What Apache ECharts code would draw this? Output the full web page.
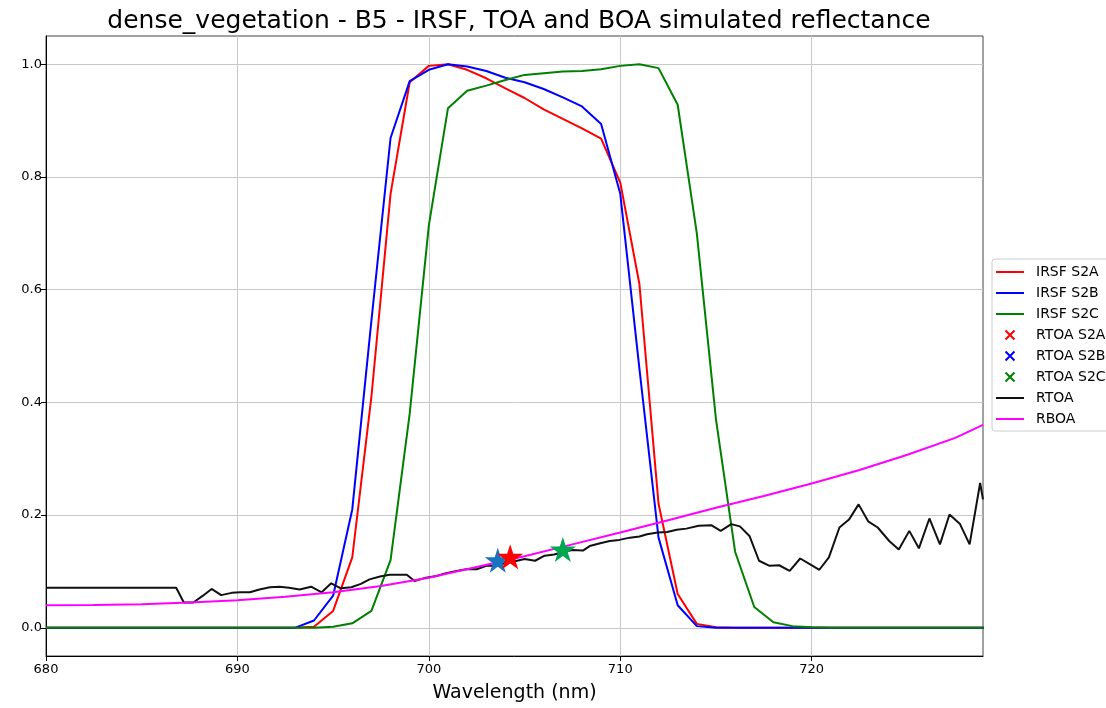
<!DOCTYPE html>
<html><head><meta charset="utf-8">
<script src="https://cdn.jsdelivr.net/npm/echarts@6/dist/echarts.min.js"></script>
<style>html,body{margin:0;padding:0;background:#fff}#c{width:1106px;height:708px}</style>
</head><body><div id="c"></div>
<script>
// ---- data ----
const wavelengths = [680,681,682,683,684,685,686,687,688,689,690,691,692,693,694,695,696,697,698,699,700,701,702,703,704,705,706,707,708,709,710,711,712,713,714,715,716,717,718,719,720,721,722,723,724,725,726,727,728,729];
const irsfS2A = [0,0,0,0,0,0,0,0,0,0,0,0,0,0,0.002,0.03,0.125,0.41,0.77,0.968,0.997,1.0,0.99,0.975,0.957,0.94,0.92,0.903,0.886,0.868,0.79,0.61,0.22,0.06,0.007,0.001,0,0,0,0,0,0,0,0,0,0,0,0,0,0];
const irsfS2B = [0,0,0,0,0,0,0,0,0,0,0,0,0,0,0.013,0.057,0.21,0.545,0.869,0.97,0.99,1.0,0.996,0.988,0.976,0.968,0.956,0.941,0.925,0.894,0.77,0.46,0.16,0.04,0.003,0,0,0,0,0,0,0,0,0,0,0,0,0,0,0];
const irsfS2C = [0,0,0,0,0,0,0,0,0,0,0,0,0,0,0,0.002,0.008,0.03,0.12,0.38,0.714,0.922,0.953,0.962,0.972,0.981,0.984,0.987,0.988,0.991,0.997,1.0,0.993,0.928,0.70,0.37,0.135,0.037,0.01,0.003,0.001,0,0,0,0,0,0,0,0,0];
const rtoaWl = [680,686.8,687.2,687.7,688.2,688.65,689.15,689.7,690.15,690.65,691.15,691.7,692.2,692.7,693.25,693.85,694.4,694.9,695.4,695.95,696.45,696.9,697.45,697.95,698.4,698.85,699.25,699.85,700.4,700.9,701.45,701.95,702.5,703.0,703.5,704.0,704.5,705.0,705.55,706.05,706.55,707.05,707.5,708.05,708.4,708.95,709.45,709.95,710.5,711.0,711.4,711.95,712.45,712.95,713.45,714.1,714.75,715.25,715.8,716.25,716.75,717.25,717.8,718.3,718.85,719.4,719.9,720.4,720.9,721.45,721.95,722.45,722.95,723.45,724.05,724.55,725.1,725.6,726.15,726.7,727.2,727.75,728.25,728.8,728.95];
const rtoaVal = [0.071,0.071,0.045,0.045,0.057,0.069,0.058,0.062,0.063,0.063,0.068,0.072,0.073,0.071,0.068,0.073,0.063,0.079,0.070,0.072,0.078,0.086,0.091,0.094,0.094,0.094,0.083,0.089,0.092,0.097,0.101,0.104,0.104,0.110,0.110,0.115,0.118,0.122,0.119,0.128,0.130,0.135,0.138,0.137,0.145,0.150,0.154,0.156,0.160,0.162,0.166,0.169,0.170,0.174,0.176,0.181,0.182,0.172,0.184,0.180,0.163,0.119,0.110,0.111,0.101,0.123,0.113,0.103,0.125,0.178,0.192,0.219,0.189,0.178,0.154,0.139,0.172,0.141,0.194,0.148,0.201,0.184,0.148,0.257,0.228];
const rboaWl = [680,682.5,685,687.5,690,692.5,695,697.5,700,702.5,705,707.5,710,712.5,715,717.5,720,722.5,725,727.5,728.95];
const rboaVal = [0.040,0.0405,0.042,0.045,0.049,0.055,0.063,0.074,0.089,0.108,0.127,0.148,0.169,0.191,0.213,0.234,0.256,0.280,0.307,0.337,0.360];
const rtoaS2A = [704.25, 0.126];
const rtoaS2B = [703.6, 0.120];
const rtoaS2C = [707.0, 0.139];
const xTicks = [680,690,700,710,720];
const yTicks = [0,0.2,0.4,0.6,0.8,1.0];
const titleText = 'dense_vegetation - B5 - IRSF, TOA and BOA simulated reflectance';

// ---- chart ----
const FONT = 'DejaVu Sans';
const zip = (xs, ys) => xs.map((x, i) => [x, ys[i]]);
const STAR = 'path://M50,0 L61.23,34.55 L97.55,34.55 L68.16,55.90 L79.39,90.45 L50,69.1 L20.61,90.45 L31.84,55.90 L2.45,34.55 L38.77,34.55 Z';
const BOXPAD = 'M0,0L0.01,0L0,0.01Z M28,14L27.99,14L28,13.99Z ';
const XICON = 'path://' + BOXPAD + 'M10.2,1.8L19.2,10.8L17.8,12.2L8.8,3.2Z M19.2,3.2L10.2,12.2L8.8,10.8L17.8,1.8Z';
const LINEICON = 'path://' + BOXPAD + 'M0,6.1L28,6.1L28,7.9L0,7.9Z';

const lineSeries = (name, data, color, width, z) => ({
  name, type: 'line', data, symbol: 'none', showSymbol: false, z,
  lineStyle: {color, width}, itemStyle: {color}, animation: false, clip: true
});
const starSeries = (name, pt, color) => ({
  name, type: 'scatter', data: [pt], symbol: STAR, symbolSize: [26, 25], z: 10,
  itemStyle: {color, opacity: 1}, animation: false
});

const chart = echarts.init(document.getElementById('c'), null, {renderer: 'canvas'});
chart.setOption({
  backgroundColor: '#fff',
  animation: false,
  title: {
    text: titleText, left: 514, top: 4, textAlign: 'center',
    textStyle: {fontFamily: FONT, fontSize: 25, fontWeight: 'normal', color: '#000'}
  },
  grid: {left: 46, right: 123, top: 36, bottom: 51, show: true, borderColor: '#444', borderWidth: 1, containLabel: false},
  xAxis: {
    type: 'value', min: 680, max: 728.95,
    name: 'Wavelength (nm)', nameLocation: 'middle', nameGap: 28,
    nameTextStyle: {fontFamily: FONT, fontSize: 19, color: '#000'},
    axisLine: {show: true, onZero: false, lineStyle: {color: '#000', width: 1}},
    axisTick: {show: true, customValues: xTicks, length: 5, lineStyle: {color: '#000'}},
    axisLabel: {customValues: xTicks, fontFamily: FONT, fontSize: 13, color: '#000', margin: 7, formatter: v => String(v)},
    splitLine: {show: true, lineStyle: {color: '#c8c8c8', width: 1}}
  },
  yAxis: {
    type: 'value', min: -0.05, max: 1.05,
    axisLine: {show: true, onZero: false, lineStyle: {color: '#000', width: 1}},
    axisTick: {show: true, customValues: yTicks, length: 5, lineStyle: {color: '#000'}},
    axisLabel: {customValues: yTicks, fontFamily: FONT, fontSize: 13, color: '#000', margin: 4, formatter: v => v.toFixed(1)},
    splitLine: {show: true, lineStyle: {color: '#c8c8c8', width: 1}}
  },
  legend: {
    orient: 'vertical', left: 992, top: 259,
    itemWidth: 28, itemHeight: 14, itemGap: 7,
    padding: [6, 6, 5, 4],
    backgroundColor: 'rgba(255,255,255,0.85)', borderColor: '#ccc', borderWidth: 1, borderRadius: 3,
    selectedMode: false,
    textStyle: {fontFamily: FONT, fontSize: 14, color: '#000', padding: [0, 0, 0, 7]},
    data: [
      {name: 'IRSF S2A', icon: LINEICON}, {name: 'IRSF S2B', icon: LINEICON}, {name: 'IRSF S2C', icon: LINEICON},
      {name: 'RTOA S2A', icon: XICON, itemStyle: {color: '#ff0000'}},
      {name: 'RTOA S2B', icon: XICON, itemStyle: {color: '#0000ff'}},
      {name: 'RTOA S2C', icon: XICON, itemStyle: {color: '#008000'}},
      {name: 'RTOA', icon: LINEICON}, {name: 'RBOA', icon: LINEICON}
    ]
  },
  series: [
    lineSeries('IRSF S2A', zip(wavelengths, irsfS2A), '#ff0000', 2, 2),
    lineSeries('IRSF S2B', zip(wavelengths, irsfS2B), '#0000ff', 2, 3),
    lineSeries('IRSF S2C', zip(wavelengths, irsfS2C), '#008000', 2, 4),
    starSeries('RTOA S2B', rtoaS2B, '#1874c1'),
    starSeries('RTOA S2A', rtoaS2A, '#ff0000'),
    starSeries('RTOA S2C', rtoaS2C, '#00a651'),
    lineSeries('RTOA', zip(rtoaWl, rtoaVal), '#111111', 2, 5),
    lineSeries('RBOA', zip(rboaWl, rboaVal), '#ff00ff', 2, 6)
  ]
});
</script></body></html>
